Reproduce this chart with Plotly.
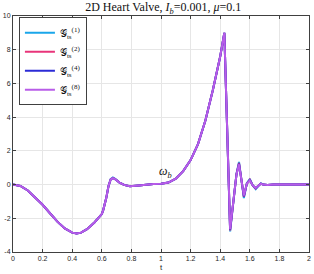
import plotly.graph_objects as go

t = [0, 0.05, 0.1, 0.15, 0.2, 0.25, 0.3, 0.35, 0.4, 0.43, 0.46, 0.5, 0.55, 0.6, 0.61,
     0.63, 0.645, 0.66, 0.675, 0.69, 0.72, 0.75, 0.79, 0.85, 0.9, 0.95, 1.0, 1.05, 1.1,
     1.15, 1.2, 1.25, 1.3, 1.35, 1.4, 1.428, 1.467, 1.49, 1.51, 1.527, 1.545, 1.56, 1.58,
     1.6, 1.62, 1.64, 1.66, 1.675, 1.69, 1.72, 1.76, 1.8, 1.9, 2.0]

g1 = [0, -0.08, -0.35, -0.75, -1.2, -1.7, -2.2, -2.6, -2.85, -2.9, -2.85, -2.65, -2.25, -1.75, -1.5,
      -0.8, -0.1, 0.32, 0.42, 0.34, 0.12, -0.02, -0.1, -0.05, 0.0, 0.03, 0.05, 0.12, 0.35,
      0.8, 1.45, 2.4, 3.8, 5.6, 7.6, 9.0, -2.78, -1.0, 0.65, 1.34, 0.1, -0.8, 0.08,
      0.33, -0.05, -0.27, -0.06, 0.08, 0.0, -0.03, 0.01, 0, 0, 0]
g2 = [0, -0.08, -0.35, -0.75, -1.2, -1.7, -2.2, -2.6, -2.85, -2.9, -2.85, -2.65, -2.25, -1.75, -1.5,
      -0.8, -0.1, 0.3, 0.4, 0.33, 0.12, -0.02, -0.1, -0.05, 0.0, 0.03, 0.05, 0.12, 0.35,
      0.8, 1.45, 2.4, 3.8, 5.6, 7.6, 9.0, -2.72, -1.0, 0.62, 1.28, 0.1, -0.73, 0.06,
      0.29, -0.05, -0.23, -0.05, 0.06, 0.0, -0.02, 0.0, 0, 0, 0]
g4 = [0, -0.08, -0.35, -0.75, -1.2, -1.7, -2.2, -2.6, -2.85, -2.9, -2.85, -2.65, -2.25, -1.75, -1.5,
      -0.8, -0.1, 0.3, 0.38, 0.32, 0.12, -0.02, -0.1, -0.05, 0.0, 0.03, 0.05, 0.12, 0.35,
      0.8, 1.45, 2.4, 3.8, 5.6, 7.6, 9.0, -2.68, -1.0, 0.6, 1.24, 0.1, -0.7, 0.05,
      0.27, -0.05, -0.21, -0.05, 0.05, 0.0, -0.02, 0.0, 0, 0, 0]
g8 = [0, -0.08, -0.35, -0.75, -1.2, -1.7, -2.2, -2.6, -2.85, -2.9, -2.85, -2.65, -2.25, -1.75, -1.5,
      -0.8, -0.1, 0.3, 0.38, 0.32, 0.12, -0.02, -0.1, -0.05, 0.0, 0.03, 0.05, 0.12, 0.35,
      0.8, 1.45, 2.4, 3.8, 5.6, 7.6, 9.0, -2.65, -1.0, 0.6, 1.2, 0.1, -0.65, 0.05,
      0.25, -0.05, -0.2, -0.05, 0.05, 0.0, -0.02, 0.0, 0, 0, 0]

names = ["𝒢<sub>ts</sub><sup>(1)</sup>", "𝒢<sub>ts</sub><sup>(2)</sup>",
         "𝒢<sub>ts</sub><sup>(4)</sup>", "𝒢<sub>ts</sub><sup>(8)</sup>"]
colors = ["#1aa6ea", "#e8347a", "#2b2bd6", "#b85ce8"]
series = [g1, g2, g4, g8]

x_ticks = [0, 0.2, 0.4, 0.6, 0.8, 1, 1.2, 1.4, 1.6, 1.8, 2]
y_ticks = [-4, -2, 0, 2, 4, 6, 8, 10]

fig = go.Figure()
for y, n, c in zip(series, names, colors):
    fig.add_trace(go.Scatter(x=t, y=y, mode="lines", name=n,
                             line=dict(color=c, width=2)))

fig.add_annotation(x=1.03, y=0.75, text="<i>ω</i><sub><i>b</i></sub>", showarrow=False,
                   font=dict(family="Liberation Serif", size=12, color="#111"))

axis_common = dict(showgrid=True, gridcolor="#e6e6e6", gridwidth=1, zeroline=False,
                   showline=True, linecolor="#404040", linewidth=1, mirror="ticks",
                   ticks="inside", ticklen=3, tickcolor="#404040",
                   tickfont=dict(family="Liberation Sans", size=7, color="#262626"))

fig.update_layout(
    width=314, height=274,
    margin=dict(l=11, r=3, t=16, b=22),
    paper_bgcolor="white", plot_bgcolor="white",
    title=dict(text="2D Heart Valve, <i>I</i><sub><i>b</i></sub>=0.001, <i>μ</i>=0.1",
               x=0.52, xanchor="center", y=0.99, yanchor="top",
               font=dict(family="Liberation Serif", size=12, color="#111")),
    xaxis=dict(range=[0, 2], tickvals=x_ticks, ticktext=[str(v) for v in x_ticks],
               title=dict(text="t", standoff=2, font=dict(family="Liberation Sans", size=8, color="#262626")),
               **axis_common),
    yaxis=dict(range=[-4, 10], tickvals=y_ticks, ticktext=[str(v) for v in y_ticks],
               **axis_common),
    legend=dict(x=0.02, y=0.995, xanchor="left", yanchor="top",
                bgcolor="white", bordercolor="#404040", borderwidth=1,
                font=dict(family="Liberation Serif", size=10, color="#111"),
                itemwidth=30, tracegroupgap=0),
    showlegend=True,
)

fig.write_html("out.html", config={"displayModeBar": False},
               post_script="document.body.style.margin='0';")
